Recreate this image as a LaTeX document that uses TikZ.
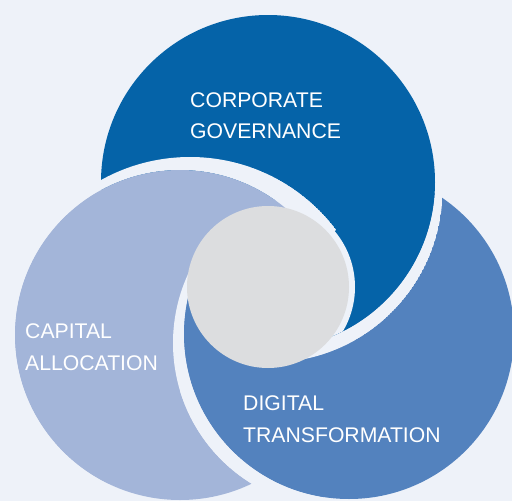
\documentclass[tikz,border=0pt]{standalone}
\usepackage{fontspec}
\setmainfont{Liberation Sans}
\definecolor{bgc}{HTML}{EEF2F9}
\definecolor{cA}{HTML}{0563A8}
\definecolor{cB}{HTML}{5382BE}
\definecolor{cC}{HTML}{A3B5D9}
\definecolor{cG}{HTML}{DCDDDF}
\tikzset{
  fA/.style={fill=cA},
  fB/.style={fill=cB},
  fC/.style={fill=cC},
  gapcut/.style={fill=bgc},
  corebox/.style={circle, fill=cG, inner sep=0pt, minimum size=162pt},
  lbl/.style={anchor=base west, inner sep=0pt, text=white, font=\fontsize{21.2}{25}\selectfont},
}
% coloured circles
\newcommand\shA{\fill[fA] (268,182) circle[radius=167];}
\newcommand\shB{\fill[fB] (349,334) circle[radius=165];}
\newcommand\shC{\fill[fC] (180,335) circle[radius=165];}
% background crescents (gaps) that each circle cuts into the one below it
\newcommand\ctA{\begin{scope}\clip (270,190) circle[radius=172.5];
  \fill[gapcut, even odd rule] (270,190) circle[radius=172.5] (268,182) circle[radius=167];\end{scope}}
\newcommand\ctB{\begin{scope}\clip (338,343) circle[radius=165];
  \fill[gapcut, even odd rule] (338,343) circle[radius=165] (349,334) circle[radius=165];\end{scope}}
\newcommand\ctC{\begin{scope}\clip (190,340) circle[radius=183];
  \fill[gapcut, even odd rule] (190,340) circle[radius=183] (180,335) circle[radius=165];\end{scope}}
% ring around the core, cut only into the dark circle
\newcommand\rgA{\begin{scope}\clip (268,182) circle[radius=167]; \fill[gapcut] (268,287) circle[radius=87];\end{scope}}
\begin{document}
\begin{tikzpicture}[x=1pt,y=-1pt]
\useasboundingbox (0,0) rectangle (512,501);
\clip (0,0) rectangle (512,501);
\fill[gapcut] (0,0) rectangle (512,501);
\coordinate (O) at (268,287);
% base order: C under B under A
\shC \ctB \shB \ctA \shA \rgA
% left part: C lies over A
\begin{scope}
  \clip (O) -- +(-40:600) -- +(-87.5:600) -- +(-135:600) -- +(-182.5:600) -- +(-230:600) -- cycle;
  \ctC \shC
\end{scope}
% lower-left part: B lies over C
\begin{scope}
  \clip (O) -- +(-162:600) -- +(-223.5:600) -- +(-285:600) -- cycle;
  \ctB \shB
\end{scope}
\node[corebox] (core) at (O) {};
\node[lbl] (cg1) at (190,107) {CORPORATE};
\node[lbl] (cg2) at (190,138) {GOVERNANCE};
\node[lbl] (ca1) at (25,338) {CAPITAL};
\node[lbl] (ca2) at (25,370) {ALLOCATION};
\node[lbl] (dt1) at (243,410.5) {DIGITAL};
\node[lbl] (dt2) at (243,442.5) {TRANSFORMATION};
\end{tikzpicture}
\end{document}
